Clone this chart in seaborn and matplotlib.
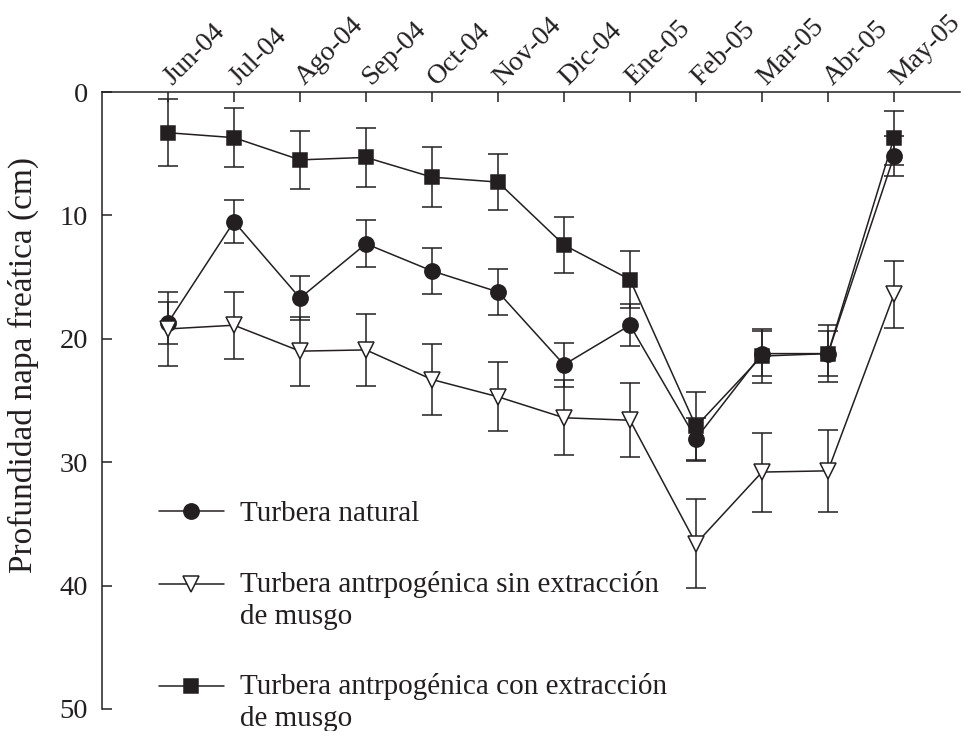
import numpy as np
import pandas as pd
import matplotlib
matplotlib.use("Agg")
import matplotlib.pyplot as plt
import matplotlib.transforms as mtrans
import seaborn as sns
from matplotlib.legend_handler import HandlerLine2D

# Datos: profundidad de la napa freatica (cm) por mes
meses = ["Jun-04", "Jul-04", "Ago-04", "Sep-04", "Oct-04", "Nov-04",
         "Dic-04", "Ene-05", "Feb-05", "Mar-05", "Abr-05", "May-05"]

natural = [18.7, 10.5, 16.7, 12.3, 14.5, 16.2, 22.1, 18.9, 28.1, 21.2, 21.2, 5.2]
natural_err = [1.7, 1.75, 1.8, 1.9, 1.85, 1.85, 1.8, 1.7, 1.7, 1.8, 1.8, 1.6]

sin_ext = [19.2, 18.9, 21.0, 20.9, 23.3, 24.7, 26.4, 26.6, 36.6, 30.8, 30.7, 16.4]
sin_ext_err = [3.0, 2.7, 2.8, 2.9, 2.85, 2.8, 3.05, 3.0, 3.6, 3.2, 3.3, 2.7]

con_ext = [3.3, 3.7, 5.5, 5.3, 6.9, 7.3, 12.4, 15.2, 27.1, 21.4, 21.2, 3.7]
con_ext_err = [2.7, 2.4, 2.35, 2.4, 2.45, 2.3, 2.25, 2.3, 2.8, 2.2, 2.3, 2.2]

labels = ["Turbera natural",
          "Turbera antrpogénica sin extracción\nde musgo",
          "Turbera antrpogénica con extracción\nde musgo"]

sns.set_style("ticks")
plt.rcParams["font.family"] = ["Liberation Serif", "DejaVu Serif"]

ink = "#231f20"
x = np.arange(len(meses))

fig = plt.figure(figsize=(9.66, 7.31), dpi=100)
ax = fig.add_axes([102 / 966, 1 - 709 / 731, 858 / 966, 617 / 731])

# orden de dibujo: cuadrados, circulos, triangulos (triangulo encima)
series = [
    (con_ext, con_ext_err, "s", ink, 10, labels[2]),
    (natural, natural_err, "o", ink, 11, labels[0]),
    (sin_ext, sin_ext_err, "v", "white", 11, labels[1]),
]
handles = {}
for i, (vals, err, mk, face, ms, lab) in enumerate(series):
    ax.errorbar(x, vals, yerr=err, fmt="none", ecolor=ink, elinewidth=1.1,
                capsize=7, capthick=1.1, zorder=2 + 2 * i)
    sns.lineplot(x=x, y=vals, ax=ax, color=ink, lw=1.1, marker=mk,
                 markersize=ms, markerfacecolor=face, markeredgecolor=ink,
                 markeredgewidth=1.1, zorder=3 + 2 * i, label=lab)
    handles[lab] = ax.get_lines()[-1]


class ShiftedHandler(HandlerLine2D):
    # desplaza el simbolo hacia la primera linea del texto
    def __init__(self, shift=0, **kw):
        super().__init__(**kw)
        self.shift = shift

    def create_artists(self, legend, orig_handle, xdescent, ydescent,
                       width, height, fontsize, trans):
        arts = super().create_artists(legend, orig_handle, xdescent, ydescent,
                                      width, height, fontsize, trans)
        for a in arts:
            a.set_ydata(np.asarray(a.get_ydata()) + self.shift)
        return arts


leg_handles = [handles[l] for l in labels]
leg = ax.legend(leg_handles, labels, loc="upper left",
                bbox_to_anchor=(0.066, 0.338), frameon=False, fontsize=21,
                handlelength=2.25, handletextpad=0.55, labelspacing=1.5,
                borderpad=0, borderaxespad=0,
                handler_map={handles[labels[1]]: ShiftedHandler(shift=11.8),
                             handles[labels[2]]: ShiftedHandler(shift=11.8)})
for t in leg.get_texts():
    t.set_linespacing(1.3)
    t.set_color(ink)

ax.set_xlim(-1, 12)
ax.set_ylim(50, 0)
ax.set_yticks([0, 10, 20, 30, 40, 50])
ax.set_xticks(x)
ax.xaxis.tick_top()
ax.set_xticklabels(meses, rotation=45, ha="left", va="center",
                   rotation_mode="anchor")
ax.tick_params(axis="x", direction="in", length=7, width=1.1, color=ink,
               labelsize=20, pad=4, top=True, bottom=False, labelcolor=ink)
ax.tick_params(axis="y", direction="in", length=7, width=1.1, color=ink,
               labelsize=20.5, pad=10, labelcolor=ink)
# etiquetas del eje superior un poco mas arriba
shift = mtrans.ScaledTranslation(0.0, 0.05, fig.dpi_scale_trans)
for lab in ax.get_xticklabels():
    lab.set_transform(lab.get_transform() + shift)

for s in ["right", "bottom"]:
    ax.spines[s].set_visible(False)
for s in ["top", "left"]:
    ax.spines[s].set_color(ink)
    ax.spines[s].set_linewidth(1.1)

ax.set_xlabel("")
ax.set_ylabel("Profundidad napa freática (cm)", fontsize=24, color=ink)
ax.yaxis.set_label_coords(-0.073, 0.557)

fig.savefig("out.png", dpi=100)
